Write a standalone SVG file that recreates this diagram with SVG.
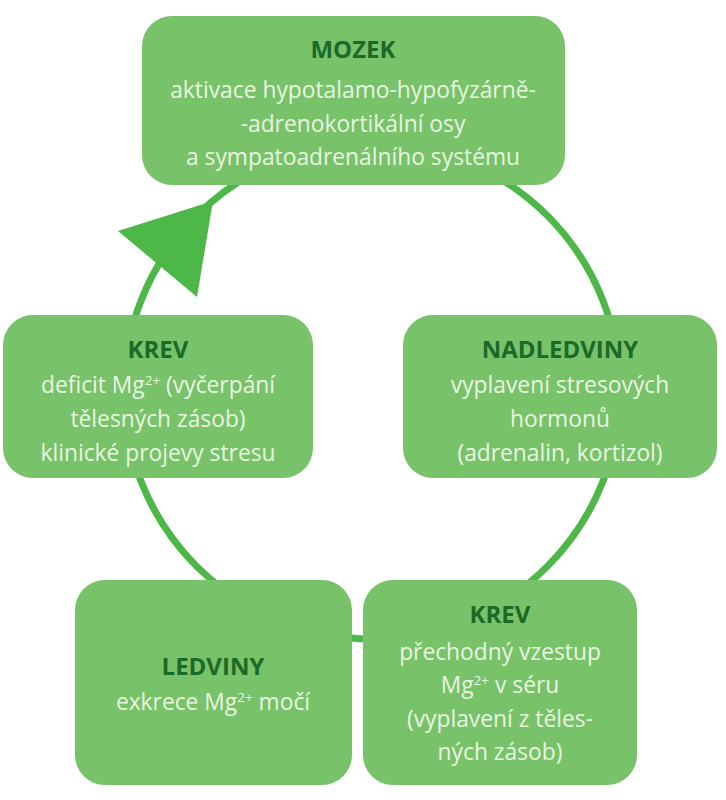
<svg xmlns="http://www.w3.org/2000/svg" width="726" height="800" viewBox="0 0 726 800">
<style>
.box{fill:#78c26a;}
.t{font-family:"Open Sans","Noto Sans","Liberation Sans",sans-serif;text-anchor:middle;}
.ti{font-weight:700;font-size:24px;fill:#1b6a27;}
.tx{font-size:22.8px;fill:#e8f5e0;}
.sup{font-size:13.5px;}
.conn{fill:none;stroke:#4db848;stroke-width:7;}
.head{fill:#4db848;}
</style>
<rect width="726" height="800" fill="#ffffff"/>
<g id="connectors">
<circle class="conn" cx="372" cy="391" r="248"/>
<polygon class="head" points="118,231 213,201 197,297"/>
</g>
<g id="mozek">
<rect class="box" x="142" y="16" width="423" height="169" rx="30"/>
<text class="t ti" x="353" y="58">MOZEK</text>
<text class="t tx" x="353" y="98">aktivace hypotalamo-hypofyzárně-</text>
<text class="t tx" x="353" y="132">-adrenokortikální osy</text>
<text class="t tx" x="353" y="165">a sympatoadrenálního systému</text>
</g>
<g id="krev-left">
<rect class="box" x="3" y="315" width="310" height="163" rx="30"/>
<text class="t ti" x="158" y="358">KREV</text>
<text class="t tx" x="158" y="393">deficit Mg<tspan class="sup" dy="-8">2+</tspan><tspan dy="8"> (vyčerpání</tspan></text>
<text class="t tx" x="158" y="427">tělesných zásob)</text>
<text class="t tx" x="158" y="461">klinické projevy stresu</text>
</g>
<g id="nadledviny">
<rect class="box" x="403" y="315" width="314" height="163" rx="30"/>
<text class="t ti" x="560" y="358">NADLEDVINY</text>
<text class="t tx" x="560" y="393">vyplavení stresových</text>
<text class="t tx" x="560" y="427">hormonů</text>
<text class="t tx" x="560" y="461">(adrenalin, kortizol)</text>
</g>
<g id="ledviny">
<rect class="box" x="75" y="580" width="277" height="205" rx="30"/>
<text class="t ti" x="213" y="675">LEDVINY</text>
<text class="t tx" x="213" y="710">exkrece Mg<tspan class="sup" dy="-8">2+</tspan><tspan dy="8"> močí</tspan></text>
</g>
<g id="krev-bottom">
<rect class="box" x="363" y="580" width="274" height="205" rx="30"/>
<text class="t ti" x="500" y="623">KREV</text>
<text class="t tx" x="500" y="660">přechodný vzestup</text>
<text class="t tx" x="500" y="693">Mg<tspan class="sup" dy="-8">2+</tspan><tspan dy="8"> v séru</tspan></text>
<text class="t tx" x="500" y="727">(vyplavení z těles-</text>
<text class="t tx" x="500" y="760">ných zásob)</text>
</g>
</svg>
